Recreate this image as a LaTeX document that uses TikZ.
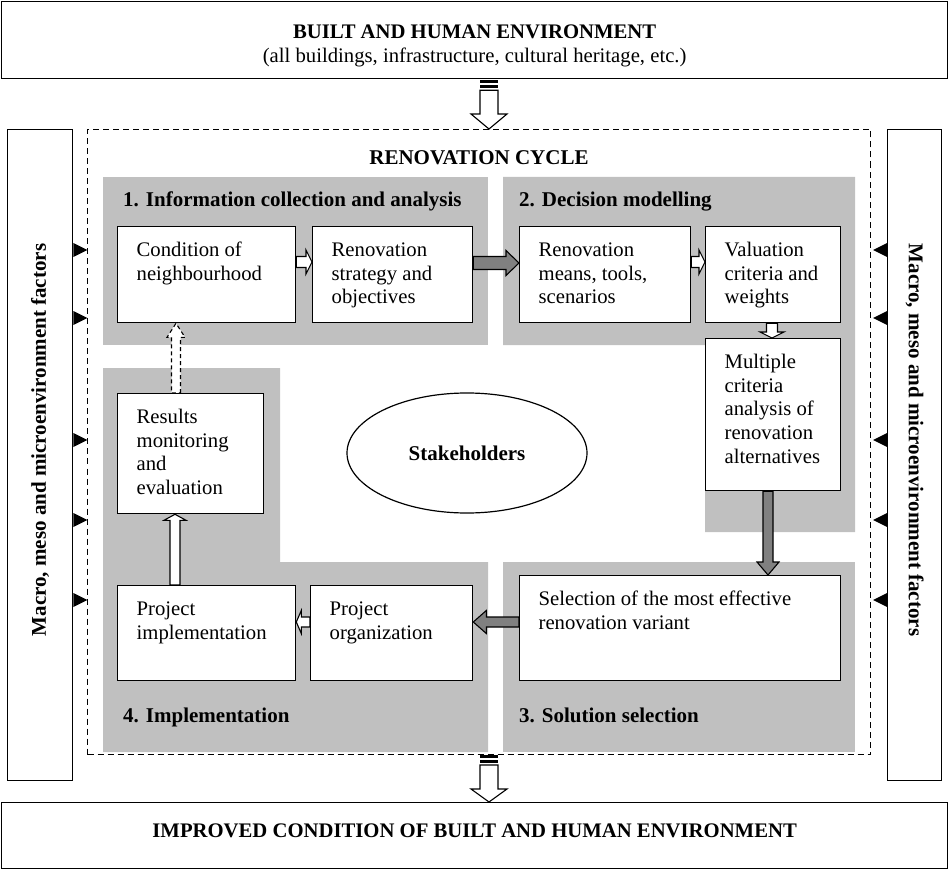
\documentclass[tikz,border=0pt]{standalone}
\usepackage{fontspec}
\setmainfont{Liberation Serif}
\usetikzlibrary{calc,shapes.geometric}
\definecolor{panel}{HTML}{C0C0C0}
\definecolor{garrow}{HTML}{808080}
\pgfdeclarelayer{back}
\pgfdeclarelayer{mid}
\pgfsetlayers{back,mid,main}
% horizontal block arrow: style, start, end, shaft half, head half, head length
\newcommand\harr[6]{\draw[#1] let \p1=(#2), \p2=(#3), \n1={sign(\x2-\x1)} in
  (\x1,\y1+#4) -- (\x2-\n1*#6,\y1+#4) -- (\x2-\n1*#6,\y1+#5) -- (\x2,\y1) --
  (\x2-\n1*#6,\y1-#5) -- (\x2-\n1*#6,\y1-#4) -- (\x1,\y1-#4) -- cycle;}
% vertical block arrow
\newcommand\varr[6]{\draw[#1] let \p1=(#2), \p2=(#3), \n1={sign(\y2-\y1)} in
  (\x1+#4,\y1) -- (\x1+#4,\y2-\n1*#6) -- (\x1+#5,\y2-\n1*#6) -- (\x1,\y2) --
  (\x1-#5,\y2-\n1*#6) -- (\x1-#4,\y2-\n1*#6) -- (\x1-#4,\y1) -- cycle;}
% box text: width, height, text
\newcommand\bt[3]{\hspace*{19pt}\parbox[t][#2pt][t]{\dimexpr#1pt-19pt\relax}{\raggedright\rule{0pt}{30pt}#3}}
\begin{document}
\begin{tikzpicture}[x=1pt,y=-1pt,line join=miter,
  every node/.style={font=\fontsize{20.7}{23.6}\selectfont},
  frame/.style={draw,line width=1.3pt,inner sep=0pt,anchor=north west},
  wbox/.style={draw,line width=1.3pt,fill=white,anchor=north west,inner sep=0pt},
  head/.style={anchor=base west,inner sep=0pt,font=\fontsize{21}{23.6}\selectfont\bfseries},
  warr/.style={draw,line width=1.1pt,fill=white},
  garr/.style={draw,line width=1.1pt,fill=garrow},
  darr/.style={draw,line width=1.1pt,fill=white,dash pattern=on 4pt off 3pt},
  stripe/.style={fill=black},
  tri/.style={fill=black}]
\useasboundingbox (0,0) rectangle (948,869);

% top and bottom boxes
\node[frame,minimum width=946pt,minimum height=77pt,align=center] (top) at (1,1)
  {\rule{0pt}{25pt}\textbf{BUILT AND HUMAN ENVIRONMENT}\\(all buildings, infrastructure, cultural heritage, etc.)};
\node[frame,minimum width=946pt,minimum height=66pt] (bot) at (1,802)
  {\bfseries\rule[-10pt]{0pt}{10pt}IMPROVED CONDITION OF BUILT AND HUMAN ENVIRONMENT};

% side boxes
\node[frame,minimum width=65pt,minimum height=651pt] (lf) at (7,129) {};
\node[frame,minimum width=54pt,minimum height=651pt] (rf) at (887,129) {};
\node[rotate=90,inner sep=0pt,font=\fontsize{21}{23.6}\selectfont\bfseries] (lt) at (lf.center |- 0,440) {Macro, meso and microenvironment factors};
\node[rotate=-90,inner sep=0pt,font=\fontsize{21}{23.6}\selectfont\bfseries] (rt) at (rf.center |- 0,440) {Macro, meso and microenvironment factors};

% renovation cycle dashed frame
\node[draw,line width=1pt,dash pattern=on 6pt off 4pt,anchor=north west,inner sep=0pt,
  minimum width=783pt,minimum height=625pt] (cyc) at (87,129) {};
\node[anchor=base,inner sep=0pt,font=\fontsize{21}{23.6}\selectfont\bfseries] (cyct) at (479,165) {RENOVATION CYCLE};

% grey panels
\begin{pgfonlayer}{back}
\fill[panel] (103,177) rectangle (488,345);
\fill[panel] (503,177) -- (855,177) -- (855,532) -- (705,532) -- (705,345) -- (503,345) -- cycle;
\fill[panel] (503,562) rectangle (855,752);
\fill[panel] (103,368) -- (280,368) -- (280,562) -- (488,562) -- (488,752) -- (103,752) -- cycle;
\end{pgfonlayer}

\node[head] (h1) at (123,207) {1. Information collection and analysis};
\node[head] (h2) at (519,207) {2. Decision modelling};
\node[head] (h3) at (519,722) {3. Solution selection};
\node[head] (h4) at (123,722) {4. Implementation};

% boxes
\node[wbox,minimum width=178pt,minimum height=96pt] (b1) at (117,226) {\bt{178}{96}{Condition of\\neighbourhood}};
\node[wbox,minimum width=160pt,minimum height=96pt] (b2) at (312,226) {\bt{160}{96}{Renovation\\strategy and\\objectives}};
\node[wbox,minimum width=171pt,minimum height=96pt] (b3) at (519,226) {\bt{171}{96}{Renovation\\means, tools,\\scenarios}};
\node[wbox,minimum width=135pt,minimum height=96pt] (b4) at (705,226) {\bt{135}{96}{Valuation\\criteria and\\weights}};
\node[wbox,minimum width=135pt,minimum height=152pt] (b5) at (705,338) {\bt{135}{152}{Multiple\\criteria\\analysis of\\renovation\\alternatives}};
\node[wbox,minimum width=321pt,minimum height=105pt] (b6) at (519,575) {\bt{321}{105}{Selection of the most effective\\renovation variant}};
\node[wbox,minimum width=162pt,minimum height=95pt] (b7) at (310,585) {\bt{162}{95}{Project\\organization}};
\node[wbox,minimum width=178pt,minimum height=95pt] (b8) at (117,585) {\bt{178}{95}{Project\\implementation}};
\node[wbox,minimum width=146pt,minimum height=120pt] (b9) at (117,393) {\bt{146}{120}{Results\\monitoring\\and\\evaluation}};

\node[draw,ellipse,line width=1.2pt,minimum width=240pt,minimum height=120pt,inner sep=0pt,
  font=\fontsize{21}{23.6}\selectfont\bfseries] (st) at (467,453) {Stakeholders};

% arrows
\begin{pgfonlayer}{mid}
\harr{warr}{b1.east |- 0,262}{b2.west |- 0,262}{5.5pt}{12pt}{6pt}
\harr{garr}{b2.east |- 0,263}{b3.west |- 0,263}{6.5pt}{12.5pt}{13pt}
\harr{warr}{b3.east |- 0,262}{b4.west |- 0,262}{5.5pt}{12pt}{6pt}
\varr{warr}{772,0 |- b4.south}{772,0 |- b5.north}{5.5pt}{12pt}{6pt}
\varr{garr}{768,0 |- b5.south}{768,0 |- b6.north}{5pt}{11pt}{13pt}
\harr{garr}{b6.west |- 0,622}{b7.east |- 0,622}{5pt}{11.5pt}{13pt}
\harr{warr}{b7.west |- 0,622}{b8.east |- 0,622}{5pt}{11.5pt}{5pt}
\varr{warr}{175,0 |- b8.north}{175,0 |- b9.south}{5pt}{11pt}{6pt}
\varr{darr}{176,0 |- b9.north}{176,0 |- b1.south}{4.5pt}{9pt}{14pt}
% big arrows
\fill[stripe] ($(top.south -| 489,0)+(-9,1)$) rectangle ++(18,3);
\fill[stripe] ($(top.south -| 489,0)+(-9,6)$) rectangle ++(18,3);
\varr{warr}{$(top.south -| 489,0)+(0,11)$}{cyc.north -| 489,0}{9pt}{18pt}{15pt}
\fill[stripe] ($(cyc.south -| 489,0)+(-9,0)$) rectangle ++(18,3);
\fill[stripe] ($(cyc.south -| 489,0)+(-9,5)$) rectangle ++(18,3);
\varr{warr}{$(cyc.south -| 489,0)+(0,10)$}{bot.north -| 489,0}{9pt}{18pt}{13pt}
\end{pgfonlayer}

% side triangles
\foreach \yy in {250,318,440,520,600}{
  \fill[tri] (lf.east |- 0,\yy) ++(0,-7) -- ++(14,7) -- ++(-14,7) -- cycle;
  \fill[tri] (rf.west |- 0,\yy) ++(0,-7) -- ++(-14,7) -- ++(14,7) -- cycle;
}
\end{tikzpicture}
\end{document}
